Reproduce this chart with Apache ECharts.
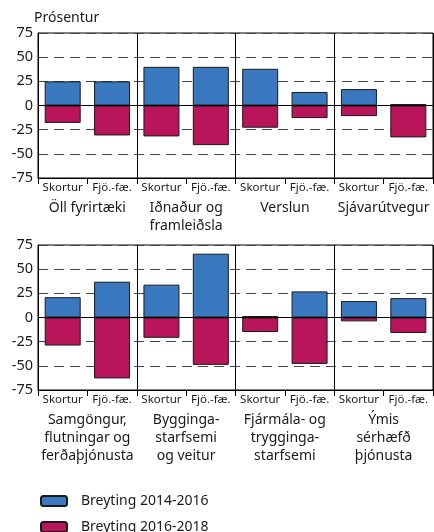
<!DOCTYPE html>
<html>
<head>
<meta charset="utf-8">
<script src="https://cdn.jsdelivr.net/npm/echarts@6/dist/echarts.min.js"></script>
<style>
  html, body { margin: 0; padding: 0; background: #fff; }
  #chart { width: 434px; height: 532px; }
</style>
</head>
<body>
<div id="chart"></div>
<script>
const subCats = ['Skortur', 'Fjö.-fæ.']
const groupsTop = ['Öll fyrirtæki', 'Iðnaður og\nframleiðsla', 'Verslun', 'Sjávarútvegur']
const groupsBottom = ['Samgöngur,\nflutningar og\nferðaþjónusta', 'Bygginga-\nstarfsemi\nog veitur', 'Fjármála- og\ntrygginga-\nstarfsemi', 'Ýmis\nsérhæfð\nþjónusta']
// Breyting 2014-2016 / 2016-2018, tvö gildi (Skortur, Fjö.-fæ.) á hvern hóp
const change1416Top = [25, 25, 40, 40, 38, 14, 17, 1.5]
const change1618Top = [-18, -31, -32, -41, -23, -13, -11, -33]
const change1416Bottom = [21, 37, 34, 66, 1.5, 27, 17, 20]
const change1618Bottom = [-29, -63, -21, -49, -15, -48, -4, -16]
const seriesNames = ['Breyting 2014-2016', 'Breyting 2016-2018']
const seriesColors = ['#3a78bf', '#b9155a']
const yMin = -75
const yMax = 75
const yStep = 25

const font = 'Noto Sans'
const textColor = '#1a1a1a'

const catLabels = groupsTop.flatMap(() => subCats)

const grids = [
  { left: 38, right: 1, top: 33, height: 145 },
  { left: 38, right: 1, top: 245, height: 145 }
]

const xAxes = []
const yAxes = []
const series = []

;[groupsTop, groupsBottom].forEach((groups, i) => {
  // undirflokkar
  xAxes.push({
    type: 'category',
    gridIndex: i,
    data: catLabels,
    position: 'bottom',
    axisLine: { onZero: false, lineStyle: { color: '#000', width: 1 } },
    axisTick: { show: true, length: 6, interval: 0, lineStyle: { color: '#000' } },
    axisLabel: { interval: 0, fontSize: 11.5, margin: 4, color: textColor, fontFamily: font },
    splitLine: { show: false }
  })
  // hópar
  xAxes.push({
    type: 'category',
    gridIndex: i,
    data: groups,
    position: 'bottom',
    axisLine: { show: false },
    axisTick: { show: false },
    axisLabel: { interval: 0, fontSize: 14, margin: 21, lineHeight: 18, color: textColor, fontFamily: font },
    splitLine: { show: true, interval: 0, lineStyle: { color: '#000', width: 1 } }
  })
  yAxes.push({
    type: 'value',
    gridIndex: i,
    min: yMin,
    max: yMax,
    interval: yStep,
    name: i === 0 ? 'Prósentur' : '',
    nameLocation: 'end',
    nameGap: 8,
    nameTextStyle: { fontSize: 14, color: textColor, fontFamily: font, align: 'left', padding: [0, 0, 0, -4] },
    axisLine: { show: true, lineStyle: { color: '#000', width: 1 } },
    axisTick: { show: false },
    axisLabel: { fontSize: 14.5, margin: 5, color: textColor, fontFamily: font },
    splitLine: { show: true, lineStyle: { color: '#444', type: [10, 6], width: 1.2 } }
  })
})

const dataSets = [[change1416Top, change1618Top], [change1416Bottom, change1618Bottom]]
dataSets.forEach((pair, i) => {
  pair.forEach((values, k) => {
    series.push({
      name: seriesNames[k],
      type: 'bar',
      xAxisIndex: i * 2,
      yAxisIndex: i,
      stack: 'panel' + i,
      barWidth: 36,
      data: values,
      itemStyle: { color: seriesColors[k], borderColor: '#1a1a1a', borderWidth: 1 },
      markLine: k === 0 ? {
        silent: true,
        symbol: 'none',
        label: { show: false },
        lineStyle: { color: '#000', type: 'solid', width: 1 },
        data: [{ yAxis: 0 }]
      } : undefined
    })
  })
})

// ein skýring í hverri línu
const legends = seriesNames.map((name, k) => ({
  data: [name],
  left: 35,
  top: 489 + k * 26,
  itemWidth: 26,
  itemHeight: 10,
  textStyle: { fontSize: 14, color: textColor, fontFamily: font, padding: [0, 0, 0, 9] }
}))

const myChart = echarts.init(document.getElementById('chart'), null, { renderer: 'canvas' })
myChart.setOption({
  animation: false,
  textStyle: { fontFamily: font },
  grid: grids.map(g => Object.assign({ show: true, borderColor: '#000', borderWidth: 1, backgroundColor: 'transparent' }, g)),
  legend: legends,
  xAxis: xAxes,
  yAxis: yAxes,
  series
})
</script>
</body>
</html>
